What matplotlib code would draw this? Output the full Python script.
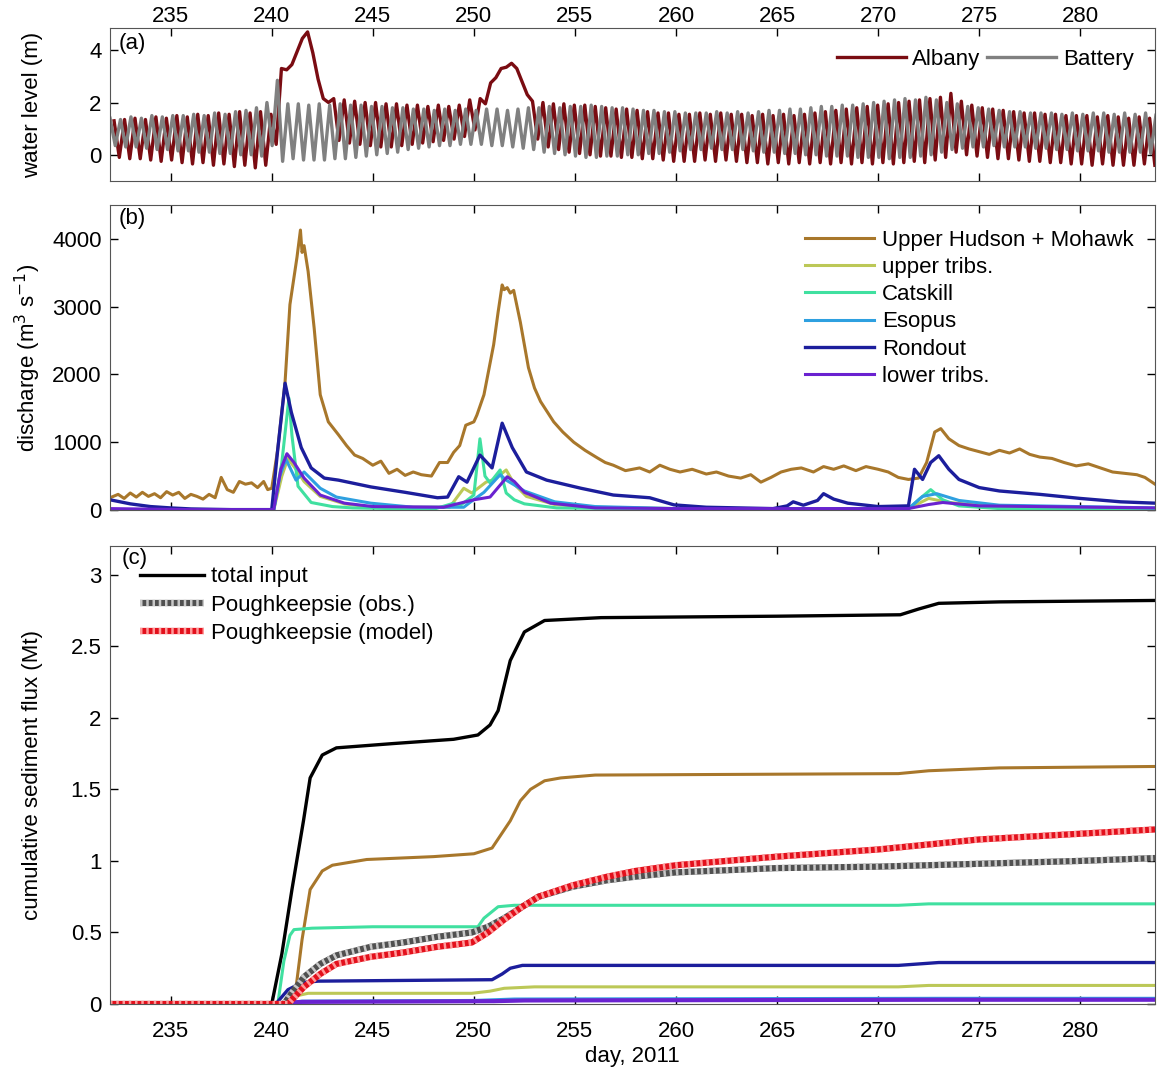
import numpy as np
import matplotlib
matplotlib.use("Agg")
import matplotlib.pyplot as plt
from matplotlib.legend_handler import HandlerTuple

plt.rcParams['font.family'] = ['Liberation Sans', 'DejaVu Sans']
plt.rcParams['font.size'] = 16

# ---------------- (a) water level: alternating high / low water, one value per half tide
tide_step = 0.25875          # half of a 12.42 h tide, in days
battery_t0 = 232.0
albany_t0 = 232.2
battery_level = [
    1.40, 0.35, 1.35, 0.30, 1.45, 0.30, 1.40, 0.25, 1.50, 0.20,
    1.45, 0.20, 1.50, 0.15, 1.50, 0.15, 1.55, 0.10, 1.50, 0.10,
    1.60, 0.05, 1.55, 0.05, 1.65, 0.00, 1.70, 0.00, 1.80, -0.05,
    2.00, 0.35, 2.85, -0.25, 1.95, -0.15, 1.95, -0.20, 1.90, -0.20,
    1.95, -0.20, 1.90, -0.15, 1.95, -0.15, 1.90, -0.10, 1.90, -0.05,
    1.85, 0.00, 1.85, 0.05, 1.80, 0.10, 1.80, 0.20, 1.75, 0.25,
    1.75, 0.30, 1.70, 0.35, 1.75, 0.35, 1.70, 0.40, 1.75, 0.40,
    1.70, 0.40, 1.75, 0.35, 1.75, 0.35, 1.70, 0.30, 1.75, 0.25,
    1.80, 0.20, 1.80, 0.10, 1.85, 0.05, 1.80, 0.00, 1.85, -0.05,
    1.85, -0.10, 1.90, -0.10, 1.85, -0.05, 1.80, -0.05, 1.80, 0.00,
    1.75, 0.00, 1.70, 0.05, 1.70, 0.05, 1.65, 0.10, 1.65, 0.15,
    1.60, 0.20, 1.60, 0.20, 1.60, 0.25, 1.65, 0.20, 1.60, 0.20,
    1.65, 0.20, 1.60, 0.15, 1.65, 0.10, 1.70, 0.10, 1.70, 0.05,
    1.75, 0.05, 1.75, 0.00, 1.80, 0.00, 1.85, -0.05, 1.85, -0.05,
    1.90, -0.05, 1.90, -0.10, 1.95, -0.10, 2.00, -0.10, 2.05, -0.15,
    2.10, -0.10, 2.15, -0.10, 2.10, -0.05, 2.20, 0.00, 2.10, 0.10,
    2.00, 0.20, 1.95, 0.25, 1.85, 0.30, 1.80, 0.30, 1.75, 0.35,
    1.70, 0.30, 1.65, 0.30, 1.65, 0.30, 1.60, 0.25, 1.60, 0.25,
    1.60, 0.20, 1.55, 0.20, 1.60, 0.15, 1.55, 0.15, 1.60, 0.15,
    1.60, 0.10, 1.55, 0.10, 1.60, 0.10, 1.55, 0.10, 1.60, 0.05,
    1.55, 0.05,
]
albany_level = [
    1.30, -0.10, 1.35, -0.15, 1.40, -0.15, 1.35, -0.20, 1.45, -0.25,
    1.40, -0.20, 1.50, -0.30, 1.45, -0.35, 1.55, -0.30, 1.50, -0.40,
    1.60, -0.35, 1.55, -0.45, 1.65, -0.40, 1.60, -0.50, 1.65, -0.40,
    1.55, 0.40, 3.30, 3.25, 3.45, 3.95, 4.45, 4.70, 3.90, 2.90,
    2.15, 2.00, 2.15, 0.55, 2.10, 0.45, 2.05, 0.40, 2.00, 0.35,
    2.00, 0.30, 1.95, 0.30, 1.95, 0.35, 1.90, 0.40, 1.90, 0.45,
    1.85, 0.50, 1.90, 0.55, 1.85, 0.60, 1.90, 0.70, 2.10, 0.95,
    2.15, 1.95, 2.75, 2.95, 3.30, 3.35, 3.50, 3.30, 2.80, 2.30,
    2.05, 0.60, 2.00, 0.30, 1.95, 0.20, 1.95, 0.10, 1.90, 0.05,
    1.90, 0.00, 1.85, -0.05, 1.80, -0.05, 1.75, -0.10, 1.75, -0.10,
    1.70, -0.15, 1.65, -0.15, 1.60, -0.20, 1.60, -0.25, 1.55, -0.25,
    1.55, -0.25, 1.60, -0.20, 1.55, -0.25, 1.60, -0.20, 1.55, -0.25,
    1.55, -0.30, 1.50, -0.30, 1.55, -0.35, 1.50, -0.30, 1.55, -0.35,
    1.50, -0.30, 1.55, -0.35, 1.60, -0.30, 1.65, -0.35, 1.70, -0.30,
    1.75, -0.35, 1.80, -0.30, 1.85, -0.35, 1.90, -0.30, 1.95, -0.35,
    2.00, -0.30, 2.05, -0.25, 2.10, -0.30, 2.15, -0.20, 2.20, -0.10,
    2.35, 0.10, 2.05, 0.00, 1.90, -0.05, 1.80, -0.10, 1.75, -0.15,
    1.70, -0.15, 1.65, -0.20, 1.60, -0.25, 1.60, -0.25, 1.55, -0.30,
    1.55, -0.30, 1.50, -0.35, 1.50, -0.35, 1.50, -0.40, 1.45, -0.35,
    1.50, -0.40, 1.45, -0.40, 1.40, -0.40, 1.45, -0.35, 1.40, -0.40,
]

# ---------------- (b) discharge (m3/s)
uh_day = [232.0, 232.4, 232.7, 233.0, 233.3, 233.6, 233.9, 234.2, 234.5, 234.8,
          235.1, 235.4, 235.7, 236.0, 236.3, 236.6, 236.9, 237.2, 237.5, 237.8,
          238.1, 238.4, 238.7, 239.0, 239.3, 239.6, 239.8, 240.0, 240.3, 240.66,
          240.9, 241.25, 241.42, 241.5, 241.6, 241.8, 242.1, 242.4, 242.8, 243.3,
          243.7, 244.1, 244.5, 245.0, 245.4, 245.8, 246.2, 246.6, 247.0, 247.4,
          247.9, 248.3, 248.7, 249.0, 249.3, 249.6, 250.0, 250.15, 250.5, 250.98,
          251.2, 251.4, 251.5, 251.65, 251.8, 251.97, 252.3, 252.7, 253.0, 253.3,
          253.95, 254.4, 254.94, 255.5, 256.1, 256.5, 256.9, 257.5, 258.2, 258.7,
          259.2, 259.7, 260.2, 260.8, 261.5, 262.0, 262.6, 263.2, 263.7, 264.2,
          264.7, 265.2, 265.7, 266.2, 266.8, 267.3, 267.8, 268.3, 268.9, 269.4,
          270.0, 270.5, 271.0, 271.5, 272.0, 272.4, 272.8, 273.1, 273.5, 274.0,
          274.5, 275.0, 275.5, 276.0, 276.5, 277.0, 277.5, 278.0, 278.6, 279.2,
          279.8, 280.4, 281.0, 281.6, 282.2, 282.8, 283.2, 283.7]
uh_q = [180, 230, 170, 250, 190, 260, 200, 240, 180, 270,
        220, 260, 170, 230, 200, 160, 230, 180, 480, 300,
        260, 420, 380, 400, 330, 420, 300, 320, 900, 1890,
        3030, 3730, 4130, 3800, 3900, 3520, 2680, 1700, 1300, 1110,
        950, 810, 760, 660, 720, 540, 600, 510, 560, 520,
        500, 700, 700, 850, 950, 1250, 1300, 1400, 1700, 2440,
        2920, 3320, 3250, 3280, 3200, 3240, 2770, 2100, 1800, 1600,
        1300, 1150, 1000, 880, 770, 700, 660, 580, 620, 560,
        660, 600, 560, 600, 530, 560, 500, 470, 520, 410,
        480, 560, 600, 620, 560, 640, 600, 650, 580, 640,
        600, 560, 480, 450, 470, 700, 1150, 1200, 1050, 950,
        900, 860, 820, 880, 840, 900, 820, 780, 760, 700,
        650, 680, 620, 560, 540, 520, 480, 380]

ut_day = [232, 240.1, 240.5, 240.8, 241.2, 241.6, 242.4, 243.6, 245, 248.8, 249.5, 249.9,
          250.6, 251.0, 251.6, 252.0, 252.6, 254, 256, 260, 271.5, 272.5, 273.5, 276, 283.7]
ut_q = [0, 0, 500, 760, 600, 420, 200, 90, 40, 40, 320, 250,
        410, 450, 590, 380, 200, 80, 40, 20, 20, 170, 110, 40, 20]

cat_day = [232, 240.1, 240.5, 240.85, 241.0, 241.3, 241.95, 243.0, 244.0, 248.0, 249.0, 249.3,
           250.0, 250.3, 250.55, 250.8, 251.3, 251.6, 252.0, 252.5, 254.1, 260, 271.5, 272.0,
           272.6, 273.2, 274, 276, 283.7]
cat_q = [0, 0, 700, 1650, 1100, 350, 110, 50, 30, 10, 100, 60,
         220, 1050, 500, 400, 590, 250, 150, 90, 30, 10, 10, 150,
         300, 150, 60, 20, 10]

eso_day = [232, 240.1, 240.4, 240.7, 241.2, 241.6, 242.4, 243.2, 244.9, 247.0, 249.5, 249.8,
           250.5, 251.3, 251.6, 252.5, 254.0, 256.0, 260, 271.5, 272.2, 272.9, 274, 276, 283.7]
eso_q = [0, 0, 500, 750, 440, 560, 320, 190, 100, 40, 40, 110,
         260, 520, 440, 280, 120, 50, 20, 20, 200, 240, 140, 70, 30]

ron_day = [232.0, 233.0, 234.0, 235.0, 236.0, 238.0, 240.0, 240.3, 240.66, 240.97, 241.46,
           241.95, 242.6, 243.3, 244.9, 246.6, 248.2, 248.7, 249.25, 249.66, 250.3, 250.9,
           251.4, 251.9, 252.6, 253.6, 255.3, 256.9, 258.7, 259.9, 261.5, 264.8, 265.5,
           265.8, 266.3, 267.0, 267.3, 267.8, 268.5, 270.0, 271.5, 271.8, 272.2, 272.6,
           273.0, 273.5, 274.0, 275.0, 276.0, 278.0, 280.0, 282.0, 283.7]
ron_q = [150, 90, 50, 30, 15, 5, 5, 900, 1870, 1440, 920,
         620, 470, 440, 340, 260, 180, 190, 490, 410, 810, 620,
         1280, 920, 560, 440, 320, 220, 180, 75, 40, 20, 60,
         120, 70, 140, 240, 160, 100, 50, 60, 600, 450, 700,
         800, 600, 450, 330, 280, 230, 170, 120, 100]

lt_day = [232, 236, 240.1, 240.45, 240.75, 241.1, 241.6, 242.4, 243.6, 245, 248.5, 250.0,
          250.8, 251.65, 252.0, 252.5, 253.8, 256, 260, 271.5, 272.5, 273.2, 275, 283.7]
lt_q = [20, 5, 5, 600, 830, 700, 470, 220, 100, 50, 40, 150,
        190, 490, 420, 260, 100, 30, 20, 20, 80, 110, 60, 30]

# ---------------- (c) cumulative sediment flux (Mt)
tot_day = [232, 240.0, 240.5, 241.0, 241.57, 241.9, 242.5, 243.2, 246.0, 249.0, 250.2, 250.8,
           251.2, 251.8, 252.5, 253.5, 256.3, 265, 271.1, 272, 273, 276, 283.7]
tot_m = [0, 0, 0.35, 0.8, 1.28, 1.58, 1.74, 1.79, 1.82, 1.85, 1.88, 1.95,
         2.05, 2.4, 2.6, 2.68, 2.70, 2.71, 2.72, 2.76, 2.80, 2.81, 2.82]

uhc_day = [232, 241.1, 241.5, 241.9, 242.5, 243.0, 244.7, 248.0, 250.0, 250.9, 251.8, 252.3,
           252.8, 253.5, 254.3, 256, 271, 272.5, 276, 283.7]
uhc_m = [0, 0, 0.45, 0.8, 0.93, 0.97, 1.01, 1.03, 1.05, 1.09, 1.28, 1.42,
         1.5, 1.56, 1.58, 1.6, 1.61, 1.63, 1.65, 1.66]

utc_day = [232, 240.5, 241.0, 241.8, 249.9, 250.8, 251.5, 253, 271, 272.5, 283.7]
utc_m = [0, 0, 0.05, 0.075, 0.075, 0.09, 0.11, 0.12, 0.12, 0.13, 0.13]

catc_day = [232, 240.3, 240.6, 240.9, 241.1, 242, 245, 250.2, 250.5, 251.2, 252, 271, 272.5, 283.7]
catc_m = [0, 0, 0.3, 0.48, 0.52, 0.53, 0.54, 0.54, 0.6, 0.68, 0.69, 0.69, 0.70, 0.70]

esoc_day = [232, 240.3, 241.5, 250, 252, 273, 283.7]
esoc_m = [0, 0, 0.02, 0.025, 0.035, 0.04, 0.04]

ronc_day = [232, 240.2, 240.8, 241.5, 242.3, 250.9, 251.4, 251.8, 252.4, 271, 272, 273, 283.7]
ronc_m = [0, 0, 0.1, 0.15, 0.16, 0.17, 0.21, 0.25, 0.27, 0.27, 0.28, 0.29, 0.29]

ltc_day = [232, 240.3, 241.5, 251, 252.5, 273, 283.7]
ltc_m = [0.005, 0.005, 0.015, 0.02, 0.025, 0.03, 0.03]

obs_day = [232, 240.6, 241.0, 241.6, 242.4, 243.2, 244.9, 246.5, 248.2, 249.9, 250.7, 251.5,
           252.4, 253.2, 254.9, 256.6, 258, 260, 265, 270, 275, 280, 283.7]
obs_m = [0, 0, 0.08, 0.19, 0.28, 0.34, 0.40, 0.43, 0.47, 0.50, 0.54, 0.60,
         0.68, 0.75, 0.82, 0.865, 0.89, 0.92, 0.95, 0.96, 0.98, 1.0, 1.02]

mod_day = [232, 240.8, 241.6, 242.4, 243.2, 244.9, 246.5, 248.2, 249.9, 250.7, 251.5, 252.4,
           253.2, 254.9, 256.6, 258, 260, 265, 270, 275, 280, 283.7]
mod_m = [0, 0, 0.12, 0.21, 0.28, 0.33, 0.36, 0.40, 0.43, 0.50, 0.59, 0.68,
         0.75, 0.83, 0.89, 0.93, 0.97, 1.03, 1.08, 1.15, 1.19, 1.22]

xlim = (232, 283.7)
xt = np.arange(235, 285, 5)

fig = plt.figure(figsize=(11.57, 10.72), dpi=100)
left, width = 0.0951, 0.9032
ax1 = fig.add_axes([left, 0.8312, width, 0.1427])
ax2 = fig.add_axes([left, 0.5243, width, 0.2845])
ax3 = fig.add_axes([left, 0.0634, width, 0.4272])

for ax in (ax1, ax2, ax3):
    ax.set_xlim(*xlim)
    ax.set_xticks(xt)
    ax.tick_params(direction='in', top=True, right=True, length=6, width=1, pad=6)
    for s in ax.spines.values():
        s.set_color('#555555')
    ax.yaxis.set_label_coords(-0.064, 0.5)

# (a)
tb = battery_t0 + np.arange(len(battery_level)) * tide_step
ta = albany_t0 + np.arange(len(albany_level)) * tide_step
ax1.plot(ta, albany_level, color='#7a0c12', lw=2.4, label='Albany')
ax1.plot(tb, battery_level, color='#808080', lw=2.4, label='Battery')
ax1.set_ylim(-1, 4.85)
ax1.set_yticks([0, 2, 4])
ax1.tick_params(axis='x', labeltop=True, labelbottom=False, pad=1)
ax1.set_ylabel('water level (m)')
ax1.text(0.008, 0.965, '(a)', transform=ax1.transAxes, va='top', ha='left')
ax1.legend(loc='upper right', bbox_to_anchor=(0.99, 0.935), ncol=2, frameon=False,
           handlelength=3.1, handletextpad=0.3, columnspacing=0.3, borderaxespad=0.1)

# (b)
ax2.plot(uh_day, uh_q, color='#a8772b', lw=2.2, label='Upper Hudson + Mohawk')
ax2.plot(ut_day, ut_q, color='#bcc857', lw=2.2, label='upper tribs.')
ax2.plot(cat_day, cat_q, color='#40e0a0', lw=2.2, label='Catskill')
ax2.plot(eso_day, eso_q, color='#2ea0e0', lw=2.2, label='Esopus')
ax2.plot(ron_day, ron_q, color='#1c1e9c', lw=2.4, label='Rondout')
ax2.plot(lt_day, lt_q, color='#6a22d0', lw=2.2, label='lower tribs.')
ax2.set_ylim(0, 4500)
ax2.set_yticks([0, 1000, 2000, 3000, 4000])
ax2.tick_params(labelbottom=False)
ax2.set_ylabel('discharge (m$^3$ s$^{-1}$)')
ax2.text(0.008, 0.99, '(b)', transform=ax2.transAxes, va='top', ha='left')
ax2.legend(loc='upper right', bbox_to_anchor=(0.99, 0.955), frameon=False,
           handlelength=3.1, handletextpad=0.35, labelspacing=0.28, borderaxespad=0.1)

# (c)
l_tot, = ax3.plot(tot_day, tot_m, color='black', lw=2.4)
ax3.plot(uhc_day, uhc_m, color='#a8772b', lw=2.2)
ax3.plot(catc_day, catc_m, color='#40e0a0', lw=2.2)
ax3.plot(utc_day, utc_m, color='#bcc857', lw=2.2)
ax3.plot(esoc_day, esoc_m, color='#2ea0e0', lw=2.2)
ax3.plot(ronc_day, ronc_m, color='#1c1e9c', lw=2.4)
ax3.plot(ltc_day, ltc_m, color='#6a22d0', lw=3.0)
o1, = ax3.plot(obs_day, obs_m, color='#505050', lw=4.5, solid_capstyle='butt')
o2, = ax3.plot(obs_day, obs_m, color='#c8c8c8', lw=4.5, ls=(0, (0.4, 0.6)))
m1, = ax3.plot(mod_day, mod_m, color='#e3101c', lw=4.5, solid_capstyle='butt')
m2, = ax3.plot(mod_day, mod_m, color='#ff9a9a', lw=4.5, ls=(0, (0.4, 0.6)))
ax3.set_ylim(0, 3.2)
ax3.set_yticks([0, 0.5, 1, 1.5, 2, 2.5, 3])
ax3.set_yticklabels(['0', '0.5', '1', '1.5', '2', '2.5', '3'])
ax3.tick_params(axis='x', pad=12)
ax3.set_ylabel('cumulative sediment flux (Mt)')
ax3.set_xlabel('day, 2011', labelpad=3)
ax3.text(0.011, 0.995, '(c)', transform=ax3.transAxes, va='top', ha='left')
ax3.legend([l_tot, (o1, o2), (m1, m2)],
           ['total input', 'Poughkeepsie (obs.)', 'Poughkeepsie (model)'],
           handler_map={tuple: HandlerTuple(ndivide=1)},
           loc='upper left', bbox_to_anchor=(0.018, 0.98), frameon=False,
           handlelength=2.9, handletextpad=0.3, labelspacing=0.33, borderaxespad=0.1)

fig.savefig('out.png', dpi=100)
